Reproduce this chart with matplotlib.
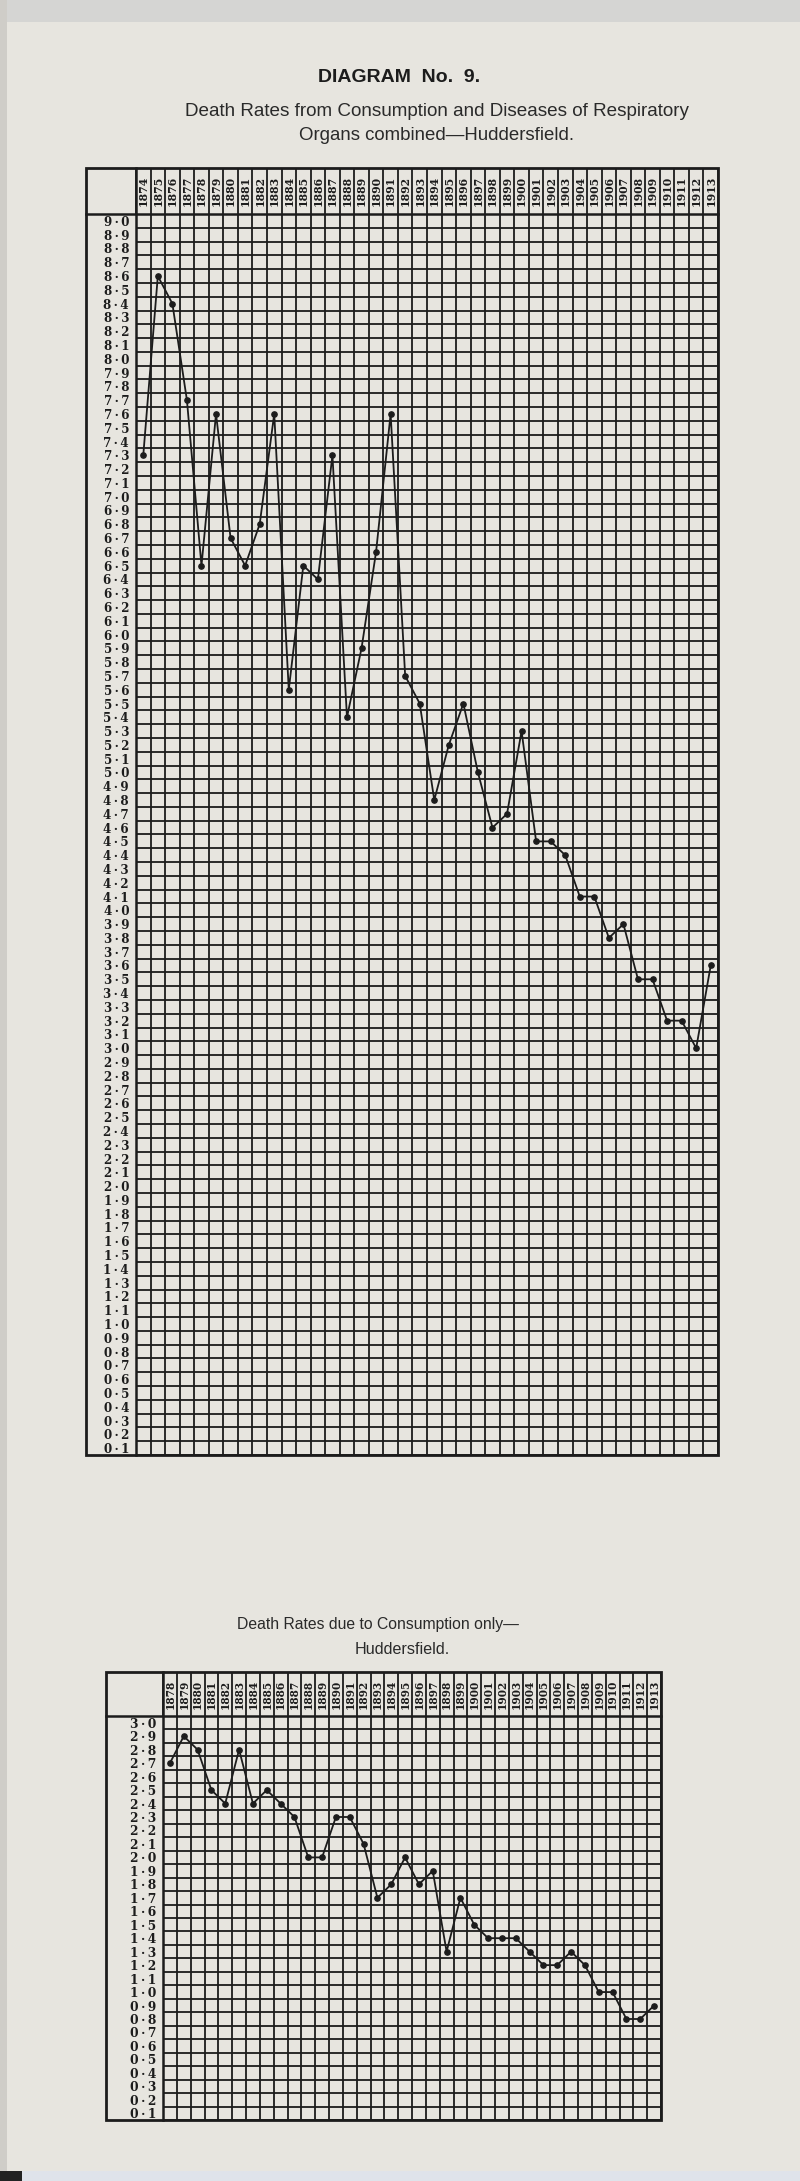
import numpy as np
import matplotlib
matplotlib.use("Agg")
import matplotlib.pyplot as plt
from matplotlib.patches import Rectangle
from matplotlib.transforms import blended_transform_factory

# ---------------- data ----------------
years_top = list(range(1874, 1914))
rates_top = [7.3, 8.6, 8.4, 7.7, 6.5, 7.6, 6.7, 6.5, 6.8, 7.6,
             5.6, 6.5, 6.4, 7.3, 5.4, 5.9, 6.6, 7.6, 5.7, 5.5,
             4.8, 5.2, 5.5, 5.0, 4.6, 4.7, 5.3, 4.5, 4.5, 4.4,
             4.1, 4.1, 3.8, 3.9, 3.5, 3.5, 3.2, 3.2, 3.0, 3.6]
levels_top = [round(0.1 * i, 1) for i in range(1, 91)]      # 0.1 .. 9.0

years_bot = list(range(1878, 1914))
rates_bot = [2.7, 2.9, 2.8, 2.5, 2.4, 2.8, 2.4, 2.5, 2.4, 2.3,
             2.0, 2.0, 2.3, 2.3, 2.1, 1.7, 1.8, 2.0, 1.8, 1.9,
             1.3, 1.7, 1.5, 1.4, 1.4, 1.4, 1.3, 1.2, 1.2, 1.3,
             1.2, 1.0, 1.0, 0.8, 0.8, 0.9]
levels_bot = [round(0.1 * i, 1) for i in range(1, 31)]      # 0.1 .. 3.0

title_main = "DIAGRAM  No.  9."
title_top = ["Death Rates from Consumption and Diseases of Respiratory",
             "Organs combined\u2014Huddersfield."]
title_bot = ["Death Rates due to Consumption only\u2014",
             "Huddersfield."]

# ---------------- style ----------------
PAPER = "#e7e5df"
INK = "#1c1c1c"
W, H = 800, 2181
fig = plt.figure(figsize=(W / 100, H / 100), dpi=100, facecolor=PAPER)

# subtle scan edges
bg = fig.add_axes([0, 0, 1, 1], zorder=-10)
bg.set_xlim(0, W); bg.set_ylim(H, 0); bg.axis("off")
bg.add_patch(Rectangle((0, 0), W, 22, color="#d5d5d3", lw=0))
bg.add_patch(Rectangle((0, 0), 7, H, color="#cfcdc8", lw=0))
bg.add_patch(Rectangle((0, H - 10), 22, 10, color="#222222", lw=0))
bg.add_patch(Rectangle((22, H - 10), W - 22, 10, color="#dfe3ea", lw=0))

LABEL_FONT = dict(family="DejaVu Serif", weight="bold")
TEXT_FONT = ["Liberation Sans", "DejaVu Sans"]
GRID_LW = 1.3


def fmt(v):
    a, b = f"{v:.1f}".split(".")
    return a + "\u2009\u00b7\u2009" + b


def draw_chart(rect_px, header_px, labcol_px, years, rates, levels,
               ylab_size, year_size, year_pad):
    x0, y0, x1, y1 = rect_px  # grid area in pixels (top-left origin)
    ax = fig.add_axes([x0 / W, 1 - y1 / H, (x1 - x0) / W, (y1 - y0) / H])
    ax.set_facecolor(PAPER)
    n = len(years)
    step = levels[1] - levels[0]
    ax.set_xlim(-0.5, n - 0.5)
    ax.set_ylim(levels[0] - step / 2, levels[-1] + step / 2)

    # grid lines
    xs = np.arange(n + 1) - 0.5
    ys = np.array(levels) - step / 2
    ax.vlines(xs, levels[0] - step / 2, levels[-1] + step / 2,
              color=INK, lw=GRID_LW, zorder=1)
    ax.hlines(ys, -0.5, n - 0.5, color=INK, lw=GRID_LW, zorder=1)

    # series
    ax.plot(range(n), rates, color=INK, lw=1.3, marker="o", ms=3.8,
            mfc=INK, mec=INK, zorder=3)

    # y labels
    ax.set_yticks(levels)
    ax.set_yticklabels([fmt(v) for v in levels], fontsize=ylab_size,
                       color=INK, **LABEL_FONT)
    ax.tick_params(axis="y", length=0, pad=5)

    # year header
    ax.xaxis.tick_top()
    ax.set_xticks(range(n))
    ax.set_xticklabels([str(y) for y in years], rotation=90,
                       fontsize=year_size, color=INK, **LABEL_FONT)
    ax.tick_params(axis="x", length=0, pad=year_pad)

    for s in ax.spines.values():
        s.set_visible(False)

    hh = header_px / (y1 - y0)
    lw_ = labcol_px / (x1 - x0)
    trans = blended_transform_factory(ax.transData, ax.transAxes)
    ax.vlines(xs, 1, 1 + hh, color=INK, lw=GRID_LW, transform=trans,
              clip_on=False, zorder=1)
    # label column and header separators
    ax.plot([0, 0], [0, 1 + hh], color=INK, lw=1.8,
            transform=ax.transAxes, clip_on=False)
    ax.plot([-lw_, 1], [1, 1], color=INK, lw=1.8,
            transform=ax.transAxes, clip_on=False)
    # outer frame
    ax.add_patch(Rectangle((-lw_, 0), 1 + lw_, 1 + hh, fill=False,
                           ec=INK, lw=2.0, transform=ax.transAxes,
                           clip_on=False, zorder=4))
    return ax


# top chart
draw_chart((136, 214, 718, 1455), 46, 50, years_top, rates_top, levels_top,
           ylab_size=8.6, year_size=7.8, year_pad=6)
# bottom chart
draw_chart((163, 1716, 661, 2120), 44, 57, years_bot, rates_bot, levels_bot,
           ylab_size=8.8, year_size=7.6, year_pad=5)

# titles
fig.text(399 / W, 1 - 77 / H, title_main, ha="center", va="center",
         fontsize=14, weight="bold", family=["Liberation Sans", "DejaVu Sans"],
         color=INK)
fig.text(437 / W, 1 - 111 / H, title_top[0], ha="center", va="center",
         fontsize=13.6, family=TEXT_FONT, color="#2a2a2a")
fig.text(436 / W, 1 - 136 / H, title_top[1], ha="center", va="center",
         fontsize=13.4, family=TEXT_FONT, color="#2a2a2a")
fig.text(378 / W, 1 - 1625 / H, title_bot[0], ha="center", va="center",
         fontsize=11.3, family=TEXT_FONT, color="#2a2a2a")
fig.text(402 / W, 1 - 1650 / H, title_bot[1], ha="center", va="center",
         fontsize=11.6, family=TEXT_FONT, color="#2a2a2a")

fig.savefig("out.png", dpi=100, facecolor=PAPER)
